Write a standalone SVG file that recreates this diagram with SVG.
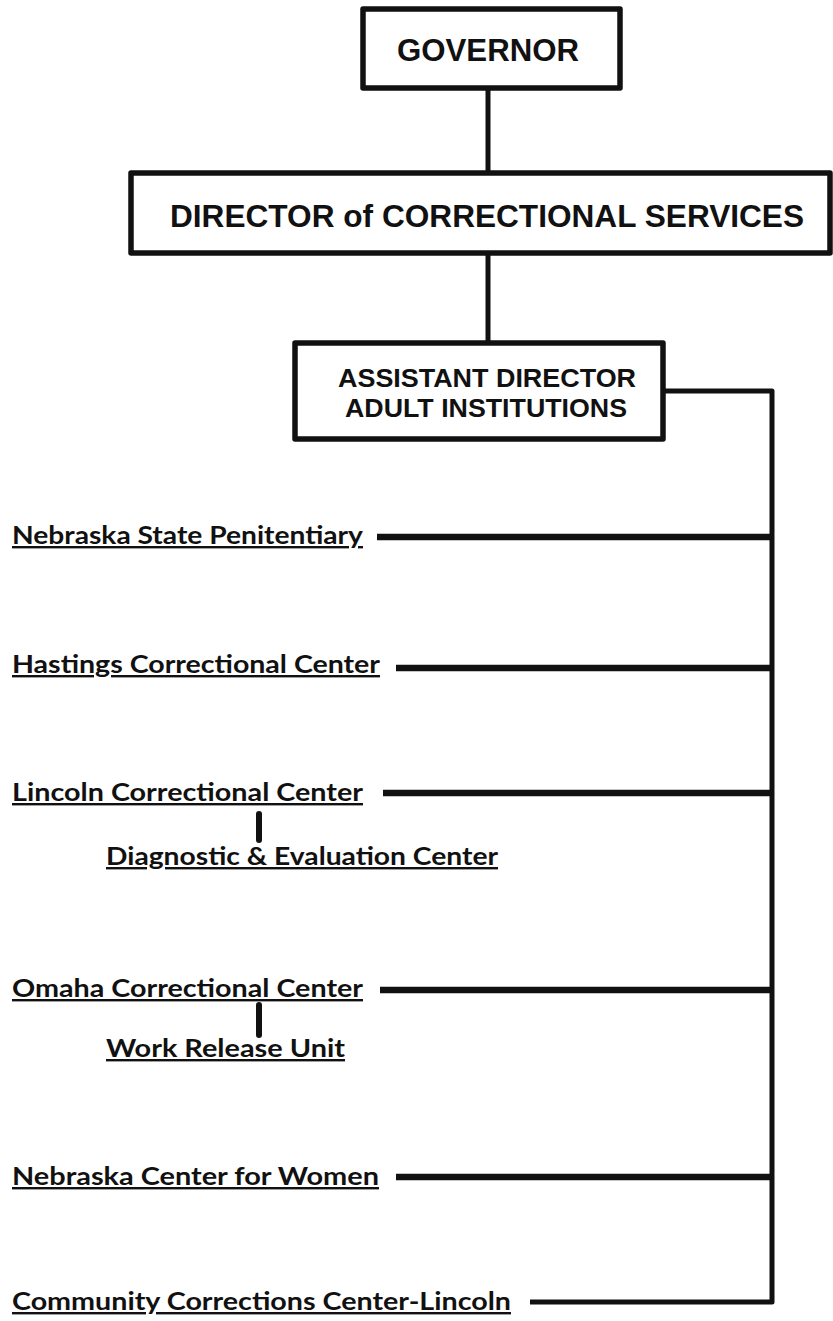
<svg xmlns="http://www.w3.org/2000/svg" width="833" height="1321" viewBox="0 0 833 1321">
<style>
.box{fill:#fff;stroke:#111;stroke-width:5.5;stroke-linejoin:round}
.big{font-family:"Liberation Sans",Arial,sans-serif;font-weight:bold;fill:#111;text-anchor:middle}
.lbl{font-family:Lato,"Open Sans",sans-serif;font-weight:bold;font-size:24px;fill:#111;text-decoration:underline}
.con{fill:none;stroke:#111;stroke-width:5;stroke-linejoin:round;stroke-linecap:butt}
.br{fill:none;stroke:#111;stroke-width:6.5}
.sub{fill:none;stroke:#111;stroke-width:6;stroke-linecap:round}
</style>
<rect width="833" height="1321" fill="#fff"/>
<g id="connectors">
<line class="con" x1="488" y1="88" x2="488" y2="173"/>
<line class="con" x1="488" y1="253" x2="488" y2="343"/>
<path class="con" d="M663 391 H772 V1302 H530"/>
<line class="br" x1="377" y1="537" x2="772" y2="537"/>
<line class="br" x1="396" y1="668" x2="772" y2="668"/>
<line class="br" x1="383" y1="793" x2="772" y2="793"/>
<line class="br" x1="380" y1="990" x2="772" y2="990"/>
<line class="br" x1="396" y1="1177" x2="772" y2="1177"/>
<line class="sub" x1="259" y1="814" x2="259" y2="840"/>
<line class="sub" x1="259" y1="1005" x2="259" y2="1035"/>
</g>
<g id="governor">
<rect class="box" x="363" y="9" width="257" height="79"/>
<text class="big" x="488" y="61" font-size="32" textLength="182" lengthAdjust="spacingAndGlyphs">GOVERNOR</text>
</g>
<g id="director">
<rect class="box" x="131" y="173" width="699" height="80"/>
<text class="big" x="487" y="227" font-size="32" textLength="634" lengthAdjust="spacingAndGlyphs">DIRECTOR of CORRECTIONAL SERVICES</text>
</g>
<g id="assistant">
<rect class="box" x="295" y="343" width="368" height="96"/>
<text class="big" x="487" y="387" font-size="26" textLength="298" lengthAdjust="spacingAndGlyphs">ASSISTANT DIRECTOR</text>
<text class="big" x="486" y="417" font-size="26" textLength="282" lengthAdjust="spacingAndGlyphs">ADULT INSTITUTIONS</text>
</g>
<g id="nsp"><text class="lbl" x="12" y="544" textLength="351" lengthAdjust="spacingAndGlyphs">Nebraska State Penitentiary</text></g>
<g id="hcc"><text class="lbl" x="12" y="673" textLength="368" lengthAdjust="spacingAndGlyphs">Hastings Correctional Center</text></g>
<g id="lcc"><text class="lbl" x="12" y="801" textLength="351" lengthAdjust="spacingAndGlyphs">Lincoln Correctional Center</text></g>
<g id="dec"><text class="lbl" x="106" y="865" textLength="392" lengthAdjust="spacingAndGlyphs">Diagnostic &amp; Evaluation Center</text></g>
<g id="occ"><text class="lbl" x="12" y="997" textLength="351" lengthAdjust="spacingAndGlyphs">Omaha Correctional Center</text></g>
<g id="wru"><text class="lbl" x="106" y="1057" textLength="239" lengthAdjust="spacingAndGlyphs">Work Release Unit</text></g>
<g id="ncw"><text class="lbl" x="12" y="1185" textLength="367" lengthAdjust="spacingAndGlyphs">Nebraska Center for Women</text></g>
<g id="ccl"><text class="lbl" x="12" y="1310" textLength="499" lengthAdjust="spacingAndGlyphs">Community Corrections Center-Lincoln</text></g>
</svg>
